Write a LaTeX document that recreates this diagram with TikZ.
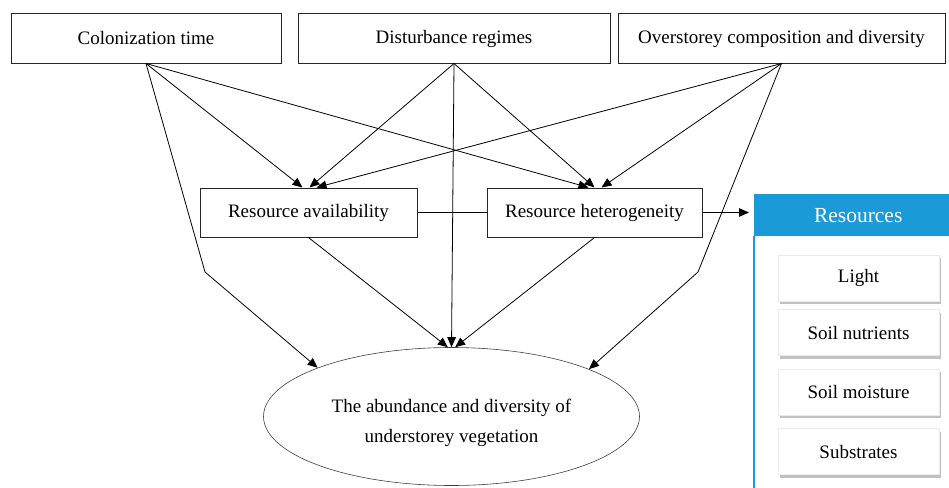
\documentclass[tikz,border=0pt]{standalone}
\usepackage{fontspec}
\setmainfont{Liberation Serif}
\usetikzlibrary{arrows.meta,shapes.geometric,shadows}
\definecolor{resblue}{HTML}{1A9AD7}
\begin{document}
\begin{tikzpicture}[x=1pt,y=-1pt,
  txt/.style={font=\fontsize{19}{23}\selectfont},
  box/.style={txt,draw=black!85,line width=1pt,fill=white,inner sep=0pt,minimum height=49pt},
  arr/.style={-{Triangle[length=10pt,width=8.5pt]},line width=0.8pt},
  lin/.style={line width=0.8pt},
  item/.style={txt,fill=white,draw=black!8,minimum width=161pt,minimum height=46pt,inner sep=0pt,
    drop shadow={shadow xshift=2pt,shadow yshift=-3pt,fill=black!40,opacity=0.6}},
]
\useasboundingbox (0,0) rectangle (949,487);
\fill[white] (0,0) rectangle (949,487);
% top boxes
\node[box,minimum width=270pt] (col) at (146,38.5) {Colonization time};
\node[box,minimum width=312pt] (dis) at (454,38.5) {Disturbance regimes};
\node[box,minimum width=327pt] (ov) at (781.5,38.5) {Overstorey composition and diversity};
% middle boxes
\node[box,minimum width=217pt] (av) at (308.5,212.5) {Resource availability};
\node[box,minimum width=215pt] (het) at (594.5,212.5) {Resource heterogeneity};
% ellipse
\node[draw=black!75,line width=0.6pt,ellipse,minimum width=376pt,minimum height=138pt,inner sep=0pt,
  label={[align=center,font=\fontsize{19}{30}\selectfont,yshift=-6pt]center:The abundance and diversity of\\understorey vegetation}]
  (ell) at (451.5,416.5) {};
% resources panel
\begin{scope}
\clip (0,0) rectangle (949,487);
\node[txt,fill=resblue,text=white,minimum width=208pt,minimum height=42pt,inner sep=0pt,anchor=north west,
  font=\fontsize{21.5}{25}\selectfont] (res) at (754,194) {Resources};
\coordinate (pb) at (754,490);
\draw[resblue,line width=2pt] (res.south west) -- (pb);
\end{scope}
\node[item] (light) at (858.5,278) {Light};
\node[item] (nut) at (858.5,332.5) {Soil nutrients};
\node[item] (moist) at (858.5,392) {Soil moisture};
\node[item] (sub) at (858.5,451.5) {Substrates};
% bend points
\coordinate (cb) at (205,272);
\coordinate (ob) at (698,272);
% connectors
\draw[arr] (col.south) -- ([xshift=-6pt]av.north);
\draw[arr] (col.south) -- ([xshift=-6pt]het.north);
\draw[arr] (col.south) -- (cb) -- (ell.160);
\draw[arr] (dis.south) -- ([xshift=1pt]av.north);
\draw[arr] (dis.south) -- ([xshift=0pt]het.north);
\draw[arr] (dis.south) -- (ell.north);
\draw[arr] (ov.south) -- ([xshift=8pt]av.north);
\draw[arr] (ov.south) -- ([xshift=7pt]het.north);
\draw[arr] (ov.south) -- (ob) -- (ell.19);
\draw[arr] (av.south) -- (ell.93);
\draw[arr] (het.south) -- (ell.87);
\draw[lin] (av.east) -- (het.west);
\draw[arr] (het.east) -- ([xshift=-5pt]res.west |- het.east);
\end{tikzpicture}
\end{document}
